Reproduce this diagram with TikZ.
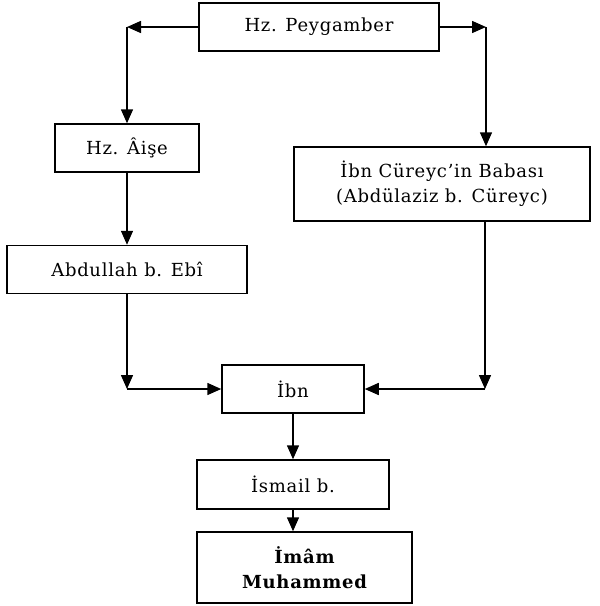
\documentclass[tikz,border=0pt]{standalone}
\usepackage{fontspec}
\setmainfont{DejaVu Serif}
\newfontfamily\boxfont[LetterSpace=4]{DejaVu Serif}
\usetikzlibrary{arrows.meta}
\begin{document}
\begin{tikzpicture}[x=1pt,y=-1pt,
  box/.style={draw,line width=1.5pt,inner sep=0pt,align=center,font=\boxfont\fontsize{18}{25}\selectfont},
  conn/.style={line width=1.5pt,-{Triangle[length=14pt,width=12pt]}}]
\useasboundingbox (0,0) rectangle (600,606);
\node[box,minimum width=240,minimum height=48] (pey) at (319,27) {Hz. Peygamber};
\node[box,minimum width=144,minimum height=48] (aise) at (127,148) {Hz. Âişe};
\node[box,minimum width=240,minimum height=48] (abd) at (127,269.5) {Abdullah b. Ebî};
\node[box,minimum width=296,minimum height=74] (cur) at (442,184) {İbn Cüreyc’in Babası\\(Abdülaziz b. Cüreyc)};
\node[box,minimum width=142,minimum height=48] (ibn) at (293,389) {İbn};
\node[box,minimum width=192,minimum height=49] (ism) at (293,484.5) {İsmail b.};
\node[box,minimum width=215,minimum height=71,font=\boxfont\fontsize{18}{25}\selectfont\bfseries] (imam) at (304.5,567.5) {İmâm\\Muhammed};
\coordinate (cL) at (127,27);
\coordinate (cR) at (486,27);
\coordinate (cBL) at (127,389);
\coordinate (cBR) at (485,389);
\draw[conn] (pey.west) -- (cL);
\draw[conn] (cL) -- (aise.north);
\draw[conn] (aise.south) -- (abd.north);
\draw[conn] (pey.east) -- (cR);
\draw[conn] (cR) -- (cR |- cur.north);
\draw[conn] (abd.south) -- (cBL);
\draw[conn] (cBL) -- (ibn.west);
\draw[conn] (cBR |- cur.south) -- (cBR);
\draw[conn] (cBR) -- (ibn.east);
\draw[conn] (ibn.south) -- (ism.north);
\draw[conn] (ism.south) -- (ism.south |- imam.north);
\end{tikzpicture}
\end{document}
